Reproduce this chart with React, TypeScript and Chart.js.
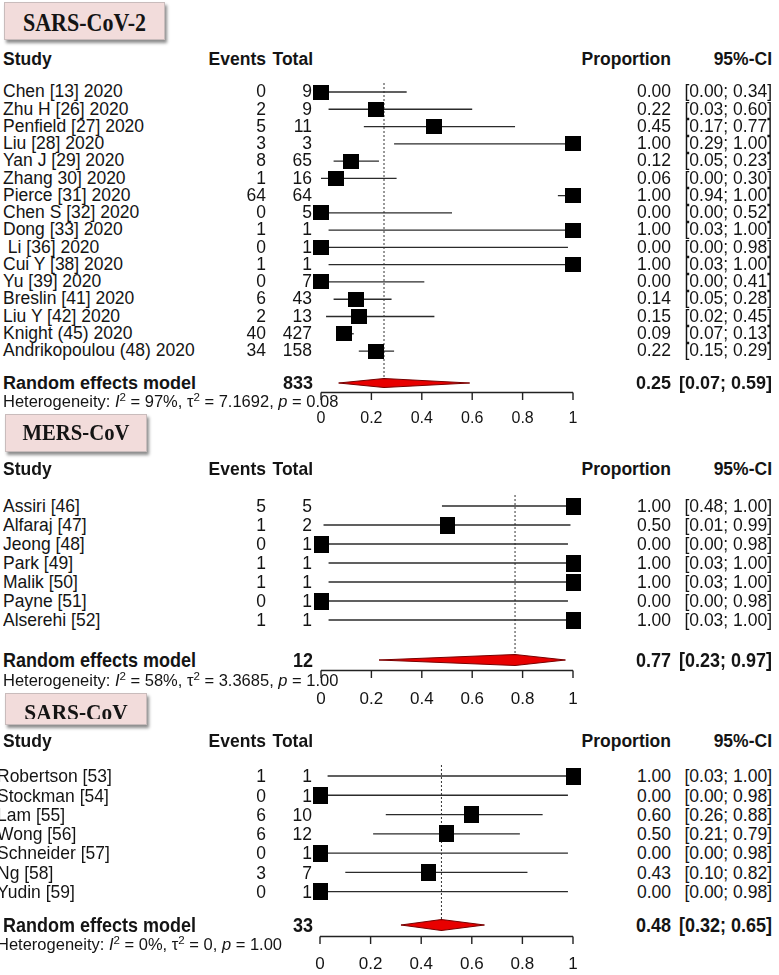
import React, { useEffect, useRef } from "react";
import { Chart, registerables } from "chart.js";

Chart.register(...registerables);

// ---------------- DATA ----------------
const headers = ["Study", "Events", "Total", "Proportion", "95%-CI"];
const axisTicks = [0, 0.2, 0.4, 0.6, 0.8, 1];
const pooledLabel = "Random effects model";

// SARS-CoV-2
const sars2Title = "SARS-CoV-2";
const sars2Studies = ["Chen [13] 2020", "Zhu H [26] 2020", "Penfield [27] 2020", "Liu [28] 2020", "Yan J [29] 2020", "Zhang 30] 2020", "Pierce [31] 2020", "Chen S [32] 2020", "Dong [33] 2020", " Li [36] 2020", "Cui Y [38] 2020", "Yu [39] 2020", "Breslin [41] 2020", "Liu Y [42] 2020", "Knight (45) 2020", "Andrikopoulou (48) 2020"];
const sars2Events = [0, 2, 5, 3, 8, 1, 64, 0, 1, 0, 1, 0, 6, 2, 40, 34];
const sars2Total = [9, 9, 11, 3, 65, 16, 64, 5, 1, 1, 1, 7, 43, 13, 427, 158];
const sars2Prop = [0.0, 0.22, 0.45, 1.0, 0.12, 0.06, 1.0, 0.0, 1.0, 0.0, 1.0, 0.0, 0.14, 0.15, 0.09, 0.22];
const sars2Lower = [0.0, 0.03, 0.17, 0.29, 0.05, 0.0, 0.94, 0.0, 0.03, 0.0, 0.03, 0.0, 0.05, 0.02, 0.07, 0.15];
const sars2Upper = [0.34, 0.6, 0.77, 1.0, 0.23, 0.3, 1.0, 0.52, 1.0, 0.98, 1.0, 0.41, 0.28, 0.45, 0.13, 0.29];
const sars2Pooled = [0.25, 0.07, 0.59];
const sars2PooledTotal = 833;
const sars2Het = ["97%", "7.1692", "0.08"];

// MERS-CoV
const mersTitle = "MERS-CoV";
const mersStudies = ["Assiri [46]", "Alfaraj [47]", "Jeong [48]", "Park [49]", "Malik [50]", "Payne [51]", "Alserehi [52]"];
const mersEvents = [5, 1, 0, 1, 1, 0, 1];
const mersTotal = [5, 2, 1, 1, 1, 1, 1];
const mersProp = [1.0, 0.5, 0.0, 1.0, 1.0, 0.0, 1.0];
const mersLower = [0.48, 0.01, 0.0, 0.03, 0.03, 0.0, 0.03];
const mersUpper = [1.0, 0.99, 0.98, 1.0, 1.0, 0.98, 1.0];
const mersPooled = [0.77, 0.23, 0.97];
const mersPooledTotal = 12;
const mersHet = ["58%", "3.3685", "1.00"];

// SARS-CoV
const sarsTitle = "SARS-CoV";
const sarsStudies = ["Robertson [53]", "Stockman [54]", "Lam [55]", "Wong [56]", "Schneider [57]", "Ng [58]", "Yudin [59]"];
const sarsEvents = [1, 0, 6, 6, 0, 3, 0];
const sarsTotal = [1, 1, 10, 12, 1, 7, 1];
const sarsProp = [1.0, 0.0, 0.6, 0.5, 0.0, 0.43, 0.0];
const sarsLower = [0.03, 0.0, 0.26, 0.21, 0.0, 0.1, 0.0];
const sarsUpper = [1.0, 0.98, 0.88, 0.79, 0.98, 0.82, 0.98];
const sarsPooled = [0.48, 0.32, 0.65];
const sarsPooledTotal = 33;
const sarsHet = ["0%", "0", "1.00"];

// ---------------- STYLE / LAYOUT ----------------
const W = 779;
const H = 975;
const SANS = "'Liberation Sans', Arial, sans-serif";
const SERIF = "'Liberation Serif', 'Times New Roman', serif";
const INK = "#141414";
const AXIS_COLOR = "#222222";
const CANVAS_LEFT = 260;
const CANVAS_W = 360;
const AXIS_H = 44;
const TICK_LEN = 8;
const BELOW_AXIS = 10; // plot area continues this far below the axis line so ticks sit inside it

type Layout = {
  headerY: number; row0: number; rowStep: number; reY: number; hetY: number; axisY: number;
  canvasTop: number; dotTop: number; plotLeft: number; plotRight: number; tickPad: number; tickSize: number;
  sqW: number; sqH: number; dHalf: number; nameX: number; size: number; sy: number;
  box: { x: number; y: number; w: number; h: number; clip: number; ty: number; size: number; sx: number; sy: number };
};

const layout1: Layout = {
  headerY: 60, row0: 92, rowStep: 17.27, reY: 383, hetY: 401, axisY: 392, canvasTop: 70, dotTop: 83,
  plotLeft: 321, plotRight: 573, tickPad: 7, tickSize: 16, sqW: 16, sqH: 15, dHalf: 4.5, nameX: 3, size: 17.5, sy: 1,
  box: { x: 4, y: 2, w: 161, h: 38, clip: 38, ty: 22, size: 25, sx: 0.88, sy: 1.05 },
};
const layout2: Layout = {
  headerY: 469, row0: 506, rowStep: 19, reY: 660, hetY: 680, axisY: 670, canvasTop: 484, dotTop: 495,
  plotLeft: 321, plotRight: 573, tickPad: 9, tickSize: 17, sqW: 15, sqH: 17, dHalf: 5.5, nameX: 3, size: 17.5, sy: 1.1,
  box: { x: 5, y: 414, w: 142, h: 38, clip: 38, ty: 432, size: 23, sx: 0.9, sy: 1.0 },
};
const layout3: Layout = {
  headerY: 741, row0: 776, rowStep: 19.27, reY: 925, hetY: 944, axisY: 936, canvasTop: 755, dotTop: 765,
  plotLeft: 320, plotRight: 573, tickPad: 8, tickSize: 17, sqW: 15, sqH: 17, dHalf: 5.5, nameX: -3, size: 17.5, sy: 1.1,
  box: { x: 5, y: 693, w: 142, h: 32, clip: 25, ty: 712, size: 23, sx: 0.93, sy: 1.0 },
};

type PanelData = {
  title: string; studies: string[]; events: number[]; total: number[]; prop: number[];
  lower: number[]; upper: number[]; pooled: number[]; pooledTotal: number; het: string[];
};

const panels: { d: PanelData; L: Layout }[] = [
  { d: { title: sars2Title, studies: sars2Studies, events: sars2Events, total: sars2Total, prop: sars2Prop, lower: sars2Lower, upper: sars2Upper, pooled: sars2Pooled, pooledTotal: sars2PooledTotal, het: sars2Het }, L: layout1 },
  { d: { title: mersTitle, studies: mersStudies, events: mersEvents, total: mersTotal, prop: mersProp, lower: mersLower, upper: mersUpper, pooled: mersPooled, pooledTotal: mersPooledTotal, het: mersHet }, L: layout2 },
  { d: { title: sarsTitle, studies: sarsStudies, events: sarsEvents, total: sarsTotal, prop: sarsProp, lower: sarsLower, upper: sarsUpper, pooled: sarsPooled, pooledTotal: sarsPooledTotal, het: sarsHet }, L: layout3 },
];

const f2 = (v: number) => v.toFixed(2);
const ci = (lo: number, hi: number) => `[${f2(lo)}; ${f2(hi)}]`;

function rectStyle(w: number, h: number) {
  const c = document.createElement("canvas");
  c.width = w;
  c.height = h;
  const ctx = c.getContext("2d")!;
  ctx.fillStyle = "#000";
  ctx.fillRect(0, 0, w, h);
  return c;
}

const segment = (pts: { x: number; y: number }[], color: string, width: number, extra: any = {}) => ({
  data: pts,
  showLine: true,
  borderColor: color,
  borderWidth: width,
  pointRadius: 0,
  fill: false,
  clip: false,
  ...extra,
});

function ForestCanvas({ d, L }: { d: PanelData; L: Layout }) {
  const ref = useRef<HTMLCanvasElement>(null);
  const plotBottom = L.axisY + BELOW_AXIS;
  const height = plotBottom + AXIS_H - L.canvasTop;
  useEffect(() => {
    const canvas = ref.current;
    if (!canvas) return;
    const toRow = (py: number) => (py - L.row0) / L.rowStep;
    const yMin = toRow(L.canvasTop);
    const yMax = toRow(plotBottom);
    const reRow = toRow(L.reY);
    const axisRow = toRow(L.axisY + 0.5);
    const tickEndRow = toRow(L.axisY + TICK_LEN);
    const h = L.dHalf / L.rowStep;
    const [est, lo, hi] = d.pooled;
    const datasets: any[] = [];
    // study squares (on top)
    datasets.push({
      data: d.prop.map((p, i) => ({ x: p, y: i })),
      pointStyle: rectStyle(L.sqW, L.sqH),
      pointRadius: 8,
      pointHoverRadius: 8,
      showLine: false,
      clip: false,
    });
    // confidence interval whiskers
    d.lower.forEach((l, i) => {
      datasets.push(segment([{ x: l, y: i }, { x: d.upper[i], y: i }], "#2b2b2b", 1.3));
    });
    // pooled diamond: upper edge, then lower edge filled to the upper edge
    datasets.push(segment([{ x: lo, y: reRow }, { x: est, y: reRow - h }, { x: hi, y: reRow }], "rgb(120,0,0)", 1.2));
    datasets.push(
      segment([{ x: lo, y: reRow }, { x: est, y: reRow + h }, { x: hi, y: reRow }], "rgb(120,0,0)", 1.2, {
        backgroundColor: "rgb(232,0,0)",
        fill: "-1",
      })
    );
    // dotted reference line at the pooled estimate
    datasets.push(segment([{ x: est, y: toRow(L.dotTop) }, { x: est, y: reRow }], "#333", 1, { borderDash: [2, 2] }));
    // axis line and downward tick marks (inside the plot area)
    datasets.push(segment([{ x: axisTicks[0], y: axisRow }, { x: axisTicks[axisTicks.length - 1], y: axisRow }], AXIS_COLOR, 1.4));
    axisTicks.forEach((t) => {
      datasets.push(segment([{ x: t, y: axisRow }, { x: t, y: tickEndRow }], AXIS_COLOR, 1.4));
    });

    const chart = new Chart(canvas, {
      type: "scatter",
      data: { datasets },
      options: {
        animation: false,
        responsive: false,
        devicePixelRatio: 1,
        events: [],
        layout: {
          autoPadding: false,
          padding: { left: L.plotLeft - CANVAS_LEFT, right: CANVAS_LEFT + CANVAS_W - L.plotRight, top: 0, bottom: 0 },
        },
        plugins: { legend: { display: false }, tooltip: { enabled: false } },
        scales: {
          x: {
            type: "linear",
            position: "bottom",
            min: axisTicks[0],
            max: axisTicks[axisTicks.length - 1],
            afterBuildTicks: (s: any) => {
              s.ticks = axisTicks.map((v) => ({ value: v }));
            },
            afterFit: (s: any) => {
              s.height = AXIS_H;
            },
            ticks: {
              autoSkip: false,
              maxRotation: 0,
              padding: L.tickPad,
              color: INK,
              font: { family: SANS, size: L.tickSize, lineHeight: 1.2 },
              callback: (v: any) => String(v),
            },
            grid: { display: true, drawOnChartArea: false, drawTicks: false, color: "rgba(0,0,0,0)" },
            border: { display: false },
          },
          y: { type: "linear", display: false, min: yMin, max: yMax, reverse: true },
        },
      } as any,
    });
    return () => chart.destroy();
  }, []);
  return (
    <canvas
      ref={ref}
      width={CANVAS_W}
      height={height}
      style={{ position: "absolute", left: CANVAS_LEFT, top: L.canvasTop, width: CANVAS_W, height }}
    />
  );
}

function Txt({ x, y, size, sy = 1, align = "left", bold = false, children }: any) {
  const style: any = {
    position: "absolute",
    top: y - size / 2,
    fontFamily: SANS,
    fontSize: size,
    lineHeight: `${size}px`,
    fontWeight: bold ? 700 : 400,
    whiteSpace: "pre",
    color: INK,
  };
  if (sy !== 1) style.transform = `scaleY(${sy})`;
  if (align === "left") style.left = x;
  else style.right = W - x;
  return <div style={style}>{children}</div>;
}

const Sup = ({ children }: any) => (
  <span style={{ fontSize: "0.7em", position: "relative", top: "-0.5em" }}>{children}</span>
);

function TitleBox({ L, text }: { L: Layout; text: string }) {
  const b = L.box;
  return (
    <div
      style={{
        position: "absolute", left: b.x, top: b.y, width: b.w, height: b.h, boxSizing: "border-box",
        background: "#f2dcdb", border: "1px solid #c9bcbc", boxShadow: "2px 3px 3px rgba(0,0,0,0.45)",
      }}
    >
      <div style={{ position: "absolute", left: 0, top: 0, width: "100%", height: b.clip, overflow: "hidden" }}>
        <div
          style={{
            position: "absolute", left: 0, width: "100%", top: b.ty - b.y - 1 - b.size / 2, textAlign: "center",
            fontFamily: SERIF, fontWeight: 700, fontSize: b.size, lineHeight: `${b.size}px`, color: INK,
            whiteSpace: "nowrap", transform: `scale(${b.sx}, ${b.sy})`,
          }}
        >
          {text}
        </div>
      </div>
    </div>
  );
}

const COL = { events: 266, total: 312, prop: 671, ci: 772 };

function PanelText({ d, L }: { d: PanelData; L: Layout }) {
  const s = L.size;
  const sy = L.sy;
  const rowY = (i: number) => L.row0 + i * L.rowStep;
  const [est, lo, hi] = d.pooled;
  return (
    <>
      <TitleBox L={L} text={d.title} />
      <Txt x={3} y={L.headerY} size={s} sy={sy} bold>{headers[0]}</Txt>
      <Txt x={COL.events} y={L.headerY} size={s} sy={sy} bold align="right">{headers[1]}</Txt>
      <Txt x={COL.total + 1} y={L.headerY} size={s} sy={sy} bold align="right">{headers[2]}</Txt>
      <Txt x={COL.prop} y={L.headerY} size={s} sy={sy} bold align="right">{headers[3]}</Txt>
      <Txt x={COL.ci} y={L.headerY} size={s} sy={sy} bold align="right">{headers[4]}</Txt>
      {d.studies.map((name, i) => (
        <React.Fragment key={i}>
          <Txt x={L.nameX} y={rowY(i)} size={s} sy={sy}>{name}</Txt>
          <Txt x={COL.events} y={rowY(i)} size={s} sy={sy} align="right">{String(d.events[i])}</Txt>
          <Txt x={COL.total} y={rowY(i)} size={s} sy={sy} align="right">{String(d.total[i])}</Txt>
          <Txt x={COL.prop} y={rowY(i)} size={s} sy={sy} align="right">{f2(d.prop[i])}</Txt>
          <Txt x={COL.ci} y={rowY(i)} size={s} sy={sy} align="right">{ci(d.lower[i], d.upper[i])}</Txt>
        </React.Fragment>
      ))}
      <Txt x={3} y={L.reY} size={18} sy={sy} bold>{pooledLabel}</Txt>
      <Txt x={COL.total + 1} y={L.reY} size={18} sy={sy} bold align="right">{String(d.pooledTotal)}</Txt>
      <Txt x={COL.prop} y={L.reY} size={18} sy={sy} bold align="right">{f2(est)}</Txt>
      <Txt x={COL.ci} y={L.reY} size={18} sy={sy} bold align="right">{ci(lo, hi)}</Txt>
      <Txt x={L.nameX} y={L.hetY} size={16.5}>
        Heterogeneity: <i>I</i><Sup>2</Sup> = {d.het[0]}, τ<Sup>2</Sup> = {d.het[1]}, <i>p</i> = {d.het[2]}
      </Txt>
    </>
  );
}

export default function App() {
  return (
    <div style={{ position: "absolute", left: 0, top: 0, width: W, height: H, overflow: "hidden", background: "#fff" }}>
      {panels.map((p, i) => (
        <ForestCanvas key={"c" + i} d={p.d} L={p.L} />
      ))}
      {panels.map((p, i) => (
        <PanelText key={"t" + i} d={p.d} L={p.L} />
      ))}
    </div>
  );
}
